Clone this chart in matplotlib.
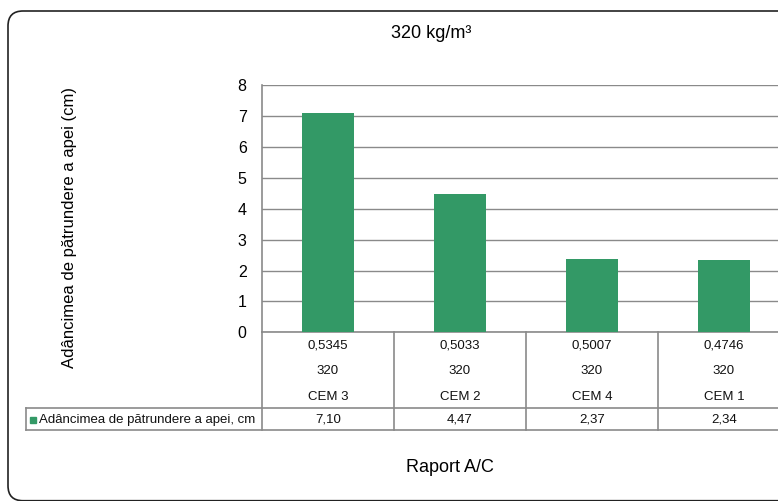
import matplotlib
matplotlib.use("Agg")
import matplotlib.pyplot as plt
from matplotlib.patches import PathPatch
from matplotlib.path import Path
from matplotlib.transforms import blended_transform_factory

plt.rcParams['font.family'] = ['Liberation Sans', 'DejaVu Sans']

# Data
ratios = ["0,5345", "0,5033", "0,5007", "0,4746"]
dosage = ["320", "320", "320", "320"]
cements = ["CEM 3", "CEM 2", "CEM 4", "CEM 1"]
depth = [7.10, 4.47, 2.37, 2.34]
series_name = "Adâncimea de pătrundere a apei, cm"
title = "320 kg/m³"
ylabel = "Adâncimea de pătrundere a apei (cm)"
xlabel = "Raport A/C"

W, H = 778, 501
fig = plt.figure(figsize=(W / 100, H / 100), dpi=100)

# chart-area frame: rounded left side, running off the right edge (inches)
x0, x1, yb, yt, r = 0.08, 8.2, 0.003, 4.90, 0.15
verts = [(x1, yt), (x0 + r, yt), (x0, yt), (x0, yt - r),
         (x0, yb + r), (x0, yb), (x0 + r, yb), (x1, yb)]
codes = [Path.MOVETO, Path.LINETO, Path.CURVE3, Path.CURVE3,
         Path.LINETO, Path.CURVE3, Path.CURVE3, Path.LINETO]
frame = PathPatch(Path(verts, codes), transform=fig.dpi_scale_trans,
                  fill=False, edgecolor="#222222", linewidth=1.2, zorder=-5)
fig.patches.append(frame)

# plot area in pixel terms
px_left, px_right, px_top, px_bottom = 262, 790, 85.3, 332.3
ax = fig.add_axes([px_left / W, 1 - px_bottom / H,
                   (px_right - px_left) / W, (px_bottom - px_top) / H])
ax.set_facecolor("none")
ax.set_zorder(2)

grey = "#8a8a8a"
bar_color = "#339966"
x = list(range(len(depth)))
ax.bar(x, depth, width=0.39, color=bar_color, zorder=3)

ax.set_xlim(-0.5, len(depth) - 0.5)
ax.set_ylim(0, 8)
ax.set_yticks(range(0, 9))
ax.grid(axis="y", color=grey, linewidth=1.0, zorder=1)
ax.set_axisbelow(True)
ax.set_xticks([])
ax.tick_params(axis="y", length=0, pad=11, labelsize=11.5)
for s in ("top", "right"):
    ax.spines[s].set_visible(False)
for s in ("left", "bottom"):
    ax.spines[s].set_color(grey)
    ax.spines[s].set_linewidth(1.2)

# data table below the plot
ph = px_bottom - px_top
def ay(py):
    return (px_bottom - py) / ph

trans_dx = blended_transform_factory(ax.transData, ax.transAxes)
row_y = [ay(346), ay(371.5), ay(396.5)]
legend_top = ay(408.3)
value_y = ay(420)
table_bottom = ay(430)
legend_left = (26 - px_left) / (px_right - px_left)

line_kw = dict(color=grey, linewidth=1.2, clip_on=False, zorder=2)
for b in [i - 0.5 for i in range(len(depth) + 1)]:
    ax.plot([b, b], [0, table_bottom], transform=trans_dx, **line_kw)
for yy in (legend_top, table_bottom):
    ax.plot([legend_left, 1.0], [yy, yy], transform=ax.transAxes, **line_kw)
ax.plot([legend_left, legend_left], [legend_top, table_bottom],
        transform=ax.transAxes, **line_kw)

tkw = dict(transform=trans_dx, ha="center", va="center", fontsize=9.5,
           color="#111111", clip_on=False)
for i in x:
    ax.text(i, row_y[0], ratios[i], **tkw)
    ax.text(i, row_y[1], dosage[i], **tkw)
    ax.text(i, row_y[2], cements[i], **tkw)
    ax.text(i, value_y, f"{depth[i]:.2f}".replace(".", ","), **tkw)

# legend key inside the table
ax.plot([legend_left + 0.0135], [value_y], marker="s", markersize=5,
        color=bar_color, transform=ax.transAxes, clip_on=False, zorder=4)
ax.text(legend_left + 0.025, value_y, series_name, transform=ax.transAxes,
        ha="left", va="center", fontsize=9.5, color="#111111", clip_on=False)

# titles
fig.text(431 / W, 1 - 33 / H, title, ha="center", va="center", fontsize=13)
fig.text(70 / W, 1 - 228 / H, ylabel, ha="center", va="center",
         rotation=90, fontsize=12)
fig.text(450 / W, 1 - 467 / H, xlabel, ha="center", va="center", fontsize=13)

fig.savefig("out.png", dpi=100)
